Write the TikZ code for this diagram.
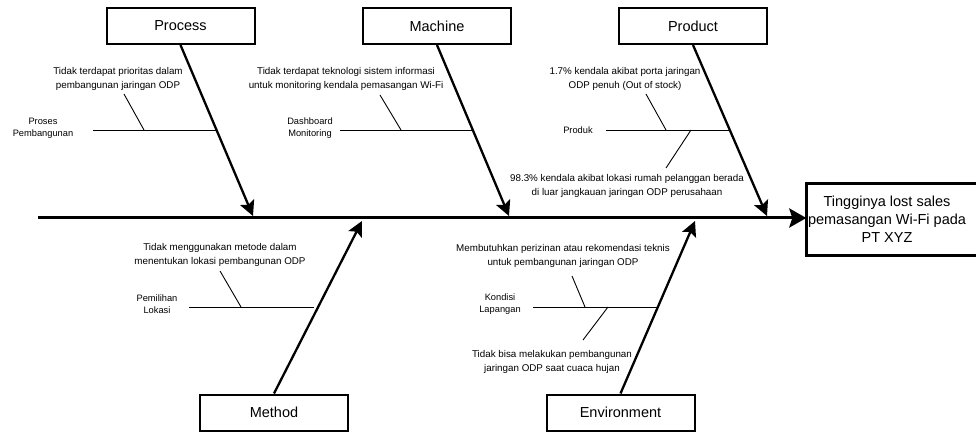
\documentclass[tikz,border=0pt]{standalone}
\usepackage{fontspec}
\setmainfont{Liberation Sans}
\usetikzlibrary{arrows.meta,calc}
\begin{document}
\begin{tikzpicture}[x=1pt,y=-1pt,
  catbox/.style={draw, line width=2pt, minimum width=148pt, minimum height=36pt, inner sep=0pt, font=\fontsize{14.5}{17}\selectfont},
  spine/.style={line width=3pt, -{Stealth[length=17pt,width=19pt,inset=3pt]}},
  branch/.style={line width=2.3pt, -{Stealth[length=15pt,width=15pt,inset=3pt]}},
  bone/.style={line width=0.9pt},
  cause/.style={align=center, inner sep=0pt, font=\fontsize{9.8}{14}\selectfont},
  sub/.style={align=center, inner sep=0pt, font=\fontsize{9.3}{12}\selectfont},
  effecttext/.style={align=center, inner sep=0pt, minimum width=161pt, minimum height=72pt, font=\fontsize{14.5}{18}\selectfont}
]
\useasboundingbox[fill=white] (0,0) rectangle (976,435);

% effect
\node[effecttext] (effect) at (887,219.5) {Tingginya lost sales\\pemasangan Wi-Fi pada\\PT XYZ};
\begin{scope}
  \clip (0,0) rectangle (976,435);
  \draw[line width=3pt] (effect.south west) rectangle ($(effect.north east)+(25,0)$);
\end{scope}

% spine
\coordinate (tail) at (38,218);
\draw[spine] (tail) -- (tail -| effect.west);

% category boxes
\node[catbox] (process) at (180.5,26) {Process};
\node[catbox] (machine) at (437,26) {Machine};
\node[catbox] (product) at (693,26) {Product};
\node[catbox] (method) at (274,412.5) {Method};
\node[catbox] (environment) at (620.5,412.5) {Environment};

% branch ends on spine
\coordinate (pe) at (253,216);
\coordinate (me) at (509,216);
\coordinate (pre) at (767,216);
\coordinate (mte) at (362,221);
\coordinate (ene) at (695,221);

\draw[branch] (process.south) -- (pe);
\draw[branch] (machine.south) -- (me);
\draw[branch] (product.south) -- (pre);
\draw[branch] (method.north) -- (mte);
\draw[branch] (environment.north) -- (ene);

% ---- Process
\node[cause] (pc1) at (118,79) {Tidak terdapat prioritas dalam\\pembangunan jaringan ODP};
\node[sub] (psub) at (43,128) {Proses\\Pembangunan};
\coordinate (ps0) at (93,130);
\coordinate (ps1) at (215.5,130);
\coordinate (pd0) at (124,94);
\coordinate (pd1) at (144,130);
\draw[bone] (ps0) -- (ps1);
\draw[bone] (pd0) -- (pd1);

% ---- Machine
\node[cause] (mc1) at (346,79) {Tidak terdapat teknologi sistem informasi\\untuk monitoring kendala pemasangan Wi-Fi};
\node[sub] (msub) at (310,128) {Dashboard\\Monitoring};
\coordinate (ms0) at (340,130);
\coordinate (ms1) at (472,130);
\coordinate (md0) at (380,95);
\coordinate (md1) at (401,130);
\draw[bone] (ms0) -- (ms1);
\draw[bone] (md0) -- (md1);

% ---- Product
\node[cause] (prc1) at (625,79) {1.7\% kendala akibat porta jaringan\\ODP penuh (Out of stock)};
\node[cause] (prc2) at (627,186) {98.3\% kendala akibat lokasi rumah pelanggan berada\\di luar jangkauan jaringan ODP perusahaan};
\node[sub] (prsub) at (578,130) {Produk};
\coordinate (prs0) at (606,130);
\coordinate (prs1) at (729,130);
\coordinate (prd0) at (646,94);
\coordinate (prd1) at (666,130);
\coordinate (prd2) at (691,130);
\coordinate (prd3) at (666,168);
\draw[bone] (prs0) -- (prs1);
\draw[bone] (prd0) -- (prd1);
\draw[bone] (prd2) -- (prd3);

% ---- Method
\node[cause] (mtc1) at (220,255) {Tidak menggunakan metode dalam\\menentukan lokasi pembangunan ODP};
\node[sub] (mtsub) at (157,304) {Pemilihan\\Lokasi};
\coordinate (mts0) at (189,307);
\coordinate (mts1) at (314,307);
\coordinate (mtd0) at (220,271);
\coordinate (mtd1) at (241,307);
\draw[bone] (mts0) -- (mts1);
\draw[bone] (mtd0) -- (mtd1);

% ---- Environment
\node[cause] (enc1) at (563,256) {Membutuhkan perizinan atau rekomendasi teknis\\untuk pembangunan jaringan ODP};
\node[cause] (enc2) at (552,362) {Tidak bisa melakukan pembangunan\\jaringan ODP saat cuaca hujan};
\node[sub] (ensub) at (500,304) {Kondisi\\Lapangan};
\coordinate (ens0) at (533,307);
\coordinate (ens1) at (657,307);
\coordinate (end0) at (572,276);
\coordinate (end1) at (585,307);
\coordinate (end2) at (608,307);
\coordinate (end3) at (583,340);
\draw[bone] (ens0) -- (ens1);
\draw[bone] (end0) -- (end1);
\draw[bone] (end2) -- (end3);
\end{tikzpicture}
\end{document}
